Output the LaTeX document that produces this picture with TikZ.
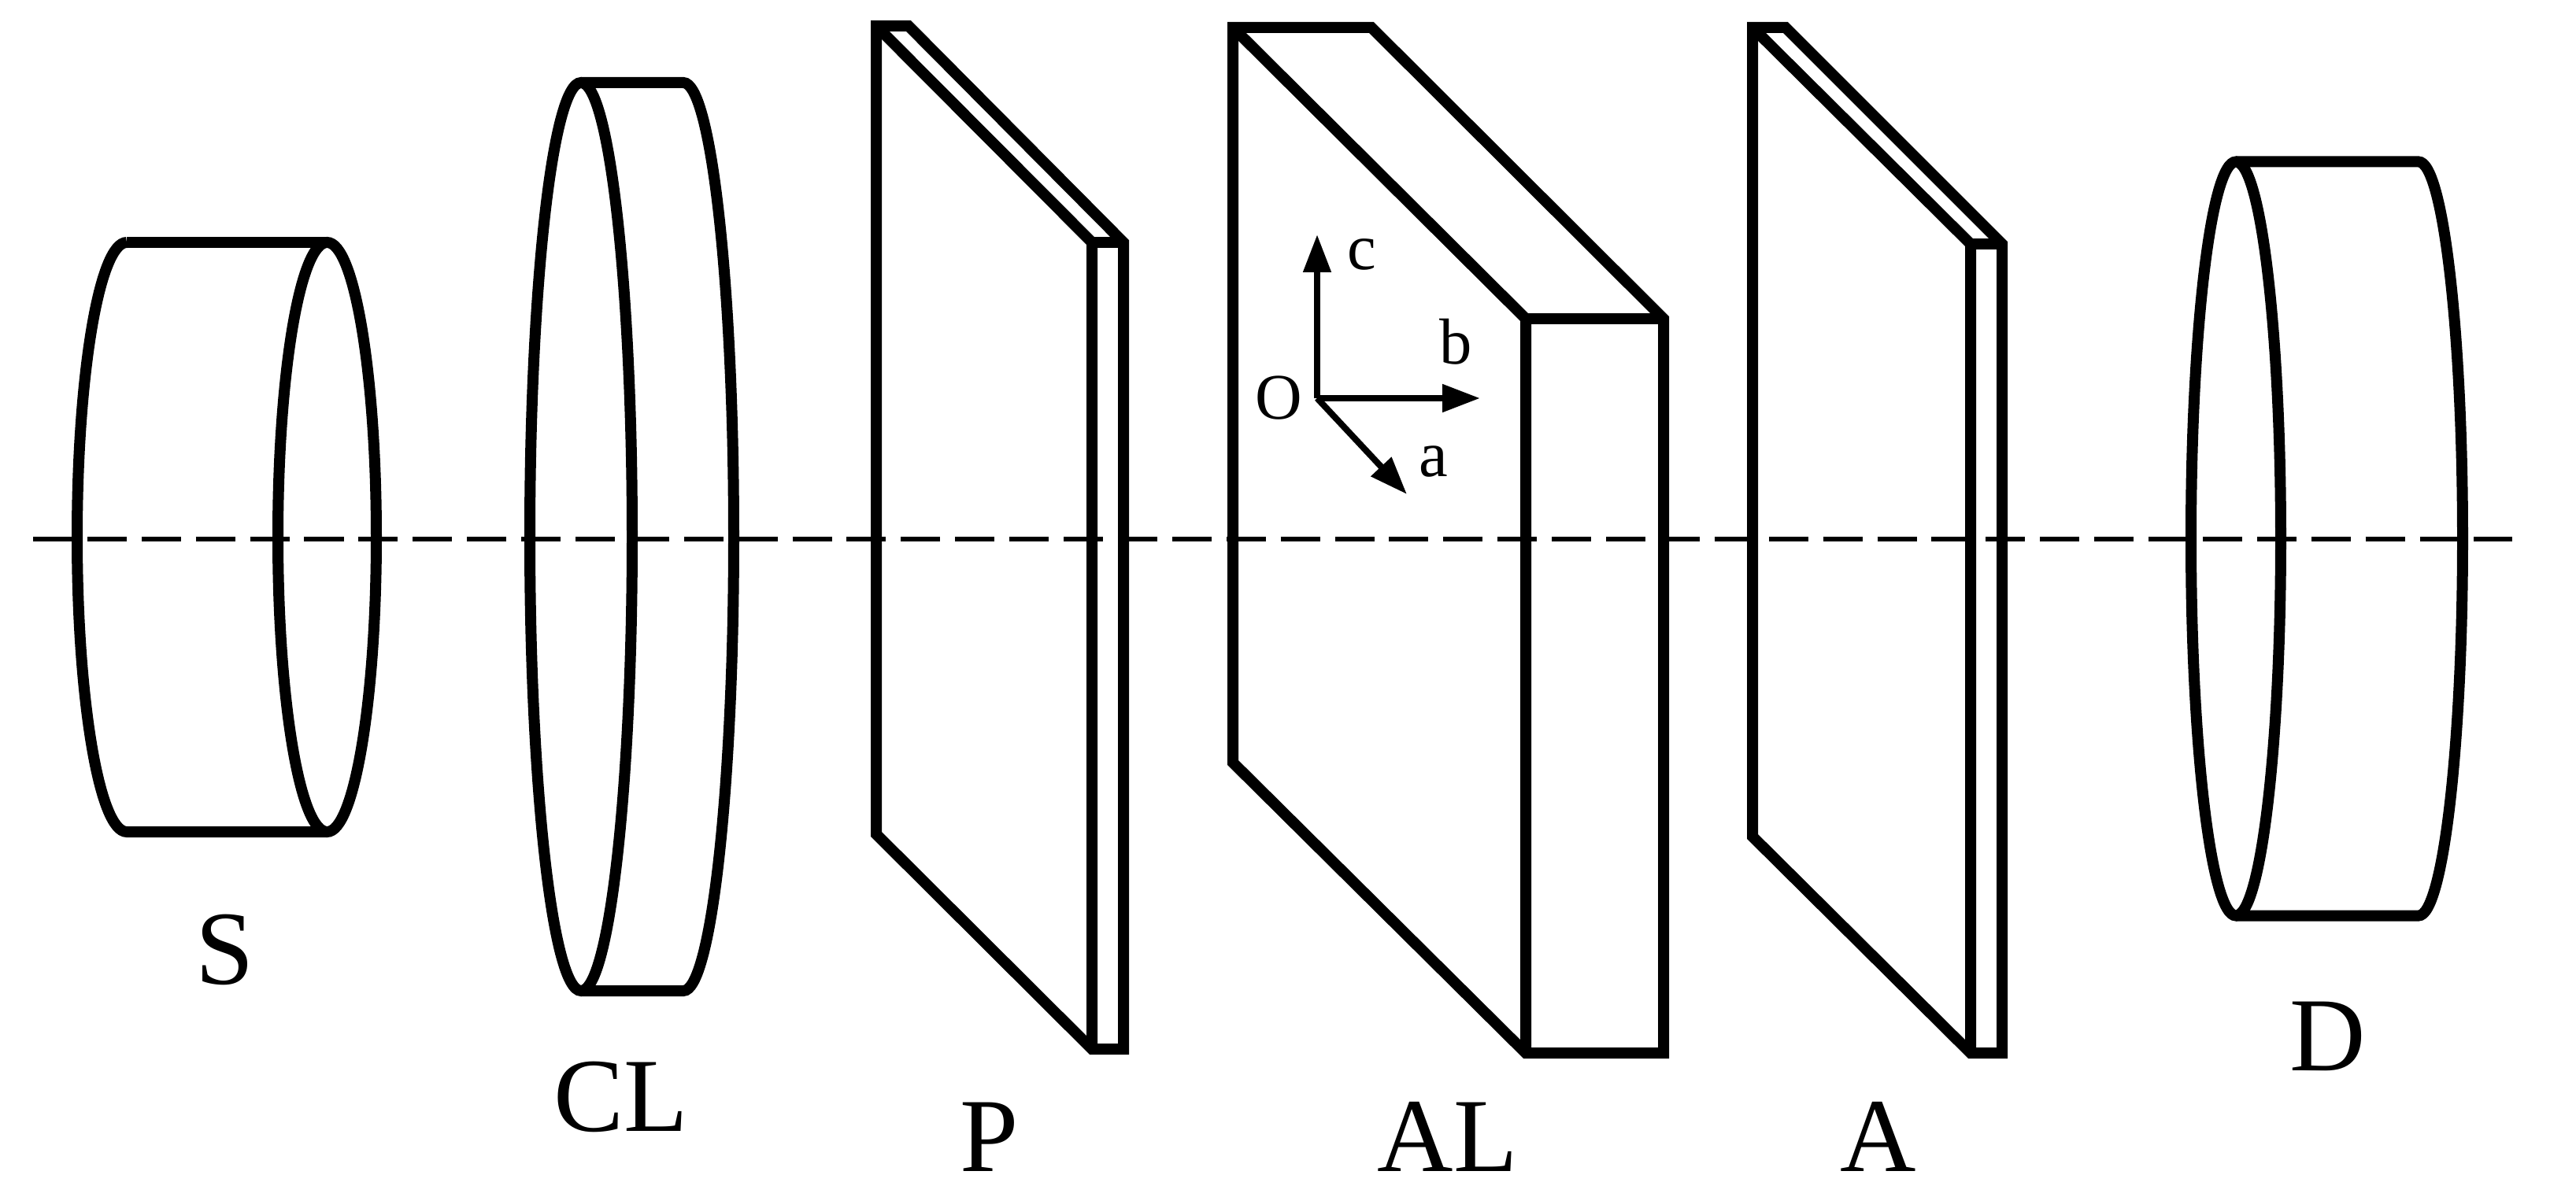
\documentclass[tikz,border=0pt]{standalone}
\usepackage{fontspec}
\setmainfont{Liberation Serif}
\usetikzlibrary{arrows.meta}
\tikzset{
	part/.style={line width=.14cm,line join=miter},
	axisline/.style={line width=.06cm,dash pattern=on .5cm off .189cm},
	frame/.style={line width=.08cm,-{Triangle[length=.48cm,width=.34cm]}},
	biglabel/.style={anchor=base,inner sep=0pt,font=\fontsize{38}{38}\selectfont},
	smalllabel/.style={anchor=base,inner sep=0pt,font=\fontsize{23.5}{24}\selectfont}
}
\begin{document}
\begin{tikzpicture}
	\useasboundingbox (0,0) rectangle (32.72,15.2);
	% source
	\draw[part] (1.61,12.12) arc[start angle=90,end angle=270,x radius=.63,y radius=3.745]--(4.155,4.63);
	\draw[part] (1.61,12.12)--(4.155,12.12);
	\draw[part] (4.155,8.375) ellipse[x radius=.625,y radius=3.745];
	% lens
	\draw[part] (7.38,8.38) ellipse[x radius=.65,y radius=5.77];
	\draw[part] (7.38,14.15)--(8.68,14.15) arc[start angle=90,end angle=-90,x radius=.64,y radius=5.77]--(7.38,2.61);
	% plates: left, back, front, right, top front, bottom, lower left
	\foreach \xl/\xk/\xf/\xr/\yt/\yf/\yb/\yl in {11.13/11.54/13.87/14.27/14.87/12.12/1.87/4.60,
		15.66/17.42/19.38/21.13/14.85/11.15/1.82/5.51,
		22.26/22.68/25.03/25.43/14.85/12.10/1.82/4.57}
	{
		\draw[part] (\xl,\yt)--(\xk,\yt)--(\xr,\yf)--(\xr,\yb)--(\xf,\yb)--(\xl,\yl)--cycle;
		\draw[part] (\xl,\yt)--(\xf,\yf)--(\xf,\yb);
		\draw[part] (\xf,\yf)--(\xr,\yf);
	}
	% detector
	\draw[part] (28.40,8.355) ellipse[x radius=.57,y radius=4.79];
	\draw[part] (28.40,13.145)--(30.72,13.145) arc[start angle=90,end angle=-90,x radius=.56,y radius=4.79]--(28.40,3.565);
	% optical axis
	\coordinate (axisL) at (.42,8.35);
	\coordinate (axisR) at (31.91,8.35);
	\draw[axisline] (axisL)--(axisR);
	% crystal axes
	\coordinate (o) at (16.73,10.14);
	\coordinate (tipc) at (16.73,12.22);
	\coordinate (tipb) at (18.80,10.14);
	\coordinate (tipa) at (17.87,8.92);
	\draw[frame] (o)--(tipc);
	\draw[frame] (o)--(tipb);
	\draw[frame] (o)--(tipa);
	\foreach \name/\x/\y in {O/16.24/9.87,c/17.30/11.77,b/18.49/10.57,a/18.21/9.15}
	\node[smalllabel] (lab\name) at (\x,\y) {\name};
	\foreach \name/\x/\y in {S/2.86/2.70,CL/7.89/.83,P/12.57/.32,AL/18.39/.32,A/23.86/.32,D/29.57/1.60}
	\node[biglabel] (lab\name) at (\x,\y) {\name};
\end{tikzpicture}
\end{document}
